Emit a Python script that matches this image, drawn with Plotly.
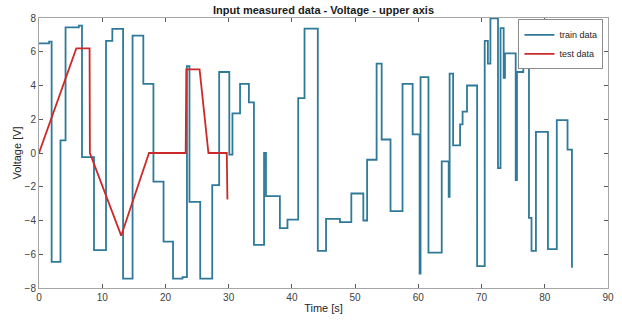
import plotly.graph_objects as go

# Train data (step signal): time of each step [s] and voltage held from it [V]
train_time = [0, 1.6, 2.0, 3.4, 4.2, 6.3, 6.8, 8.7, 10.6, 11.6, 13.3, 14.8, 16.5, 18.1,
              19.7, 21.2, 22.7, 23.4, 23.8, 25.5, 27.4, 28.5, 30.1, 30.6, 31.8, 33.2,
              34.0, 35.6, 35.9, 38.1, 39.3, 41.0, 42.0, 44.1, 45.4, 47.6, 49.4, 51.3,
              51.9, 53.4, 54.2, 55.6, 57.5, 59.1, 60.2, 60.35, 61.6, 63.7, 64.8, 64.95,
              65.5, 66.6, 67.0, 67.7, 69.3, 70.5, 71.0, 71.4, 72.6, 73.0, 73.5, 73.7,
              75.4, 75.6, 76.6, 77.5, 77.9, 78.6, 80.5, 81.9, 83.6, 84.3]
train_voltage = [6.5, 6.6, -6.45, 0.75, 7.45, 7.55, -0.25, -5.75, 6.65, 7.35, -7.45, 6.95, 4.1, -1.7,
                 -5.25, -7.45, -7.35, 5.15, -2.9, -7.45, -1.9, 4.8, -0.1, 2.35, 4.1, 3.0,
                 -5.45, 0.0, -2.55, -4.45, -3.95, 3.25, 7.37, -5.8, -3.9, -4.1, -2.4, -4.0,
                 -0.4, 5.3, 0.8, -3.45, 4.1, 1.1, -7.15, 4.5, -5.9, -0.5, -2.6, 4.7,
                 0.45, 1.7, 2.45, 4.0, -6.7, 6.65, 5.3, 7.98, -0.9, 7.4, 4.45, 5.9,
                 -1.6, 4.8, 6.6, -3.85, -5.8, 1.25, -5.7, 1.95, 0.2, -6.8]

# Test data (piecewise linear)
test_time = [0, 5.9, 8.0, 8.05, 13.0, 17.4, 23.2, 23.3, 25.4, 26.8, 29.7, 29.8]
test_voltage = [0, 6.2, 6.2, 0.0, -4.9, 0.0, 0.0, 4.95, 4.95, 0.0, 0.0, -2.75]

fig = go.Figure()
fig.add_trace(go.Scatter(x=train_time, y=train_voltage, mode="lines", name="train data",
                         line=dict(color="#2f7a99", width=1.8, shape="hv")))
fig.add_trace(go.Scatter(x=test_time, y=test_voltage, mode="lines", name="test data",
                         line=dict(color="#cc2a2a", width=1.8)))

axis_common = dict(showline=True, linecolor="#a6a6a6", linewidth=1, mirror="ticks",
                   ticks="inside", ticklen=4, tickcolor="#595959", showgrid=False,
                   zeroline=False, automargin=False,
                   tickfont=dict(size=10, color="#404040"))

fig.update_layout(
    width=622, height=320,
    margin=dict(l=39, r=14, t=18, b=32),
    paper_bgcolor="white", plot_bgcolor="white",
    font=dict(family="Liberation Sans, Arial, sans-serif", size=10, color="#262626"),
    title=dict(text="<b>Input measured data - Voltage - upper axis</b>", x=0.5, xref="paper",
               xanchor="center", y=0.968, yref="container", yanchor="middle",
               font=dict(size=11, color="#1a1a1a"), automargin=False),
    xaxis=dict(range=[0, 90], dtick=10, title=dict(text="Time [s]", standoff=2,
               font=dict(size=11, color="#262626")), **axis_common),
    yaxis=dict(range=[-8, 8], dtick=2, title=dict(text="Voltage [V]", standoff=0,
               font=dict(size=11, color="#262626")), **axis_common),
    legend=dict(x=0.992, y=0.995, xanchor="right", yanchor="top", bgcolor="white",
                bordercolor="#8c8c8c", borderwidth=1, font=dict(size=9, color="#262626"),
                tracegroupgap=0, itemwidth=30),
    showlegend=True,
)

fig.write_html("out.html", config={"displayModeBar": False},
               post_script="document.body.style.margin='0';document.body.style.overflow='hidden';")
